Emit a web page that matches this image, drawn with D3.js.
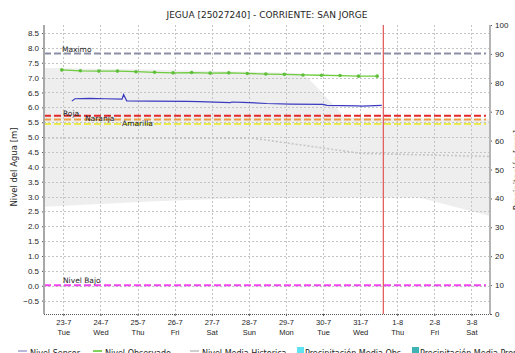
<!DOCTYPE html>
<html>
<head>
<meta charset="utf-8">
<script src="https://cdn.jsdelivr.net/npm/d3@7"></script>
<style>
  html, body { margin: 0; padding: 0; background: #fff; }
  svg { display: block; font-family: "DejaVu Sans", Verdana, sans-serif; }
</style>
</head>
<body>
<svg id="chart" width="515" height="353"></svg>
<script>
// Water level at JEGUA station, 23-7 to 3-8
const T = (d, h = 0, m = 0) => new Date(2024, d[1] - 1, d[0], h, m);

const xDomain = [T([22, 7], 11, 30), T([3, 8], 12)];
const tickDates = [
  T([23, 7]), T([24, 7]), T([25, 7]), T([26, 7]), T([27, 7]), T([28, 7]),
  T([29, 7]), T([30, 7]), T([31, 7]), T([1, 8]), T([2, 8]), T([3, 8])
];
const levelTicks = [-0.5, 0, 0.5, 1, 1.5, 2, 2.5, 3, 3.5, 4, 4.5, 5, 5.5, 6, 6.5, 7, 7.5, 8, 8.5];
const rainTicks = [0, 10, 20, 30, 40, 50, 60, 70, 80, 90, 100];

// Nivel Observado (every 12 h)
const observedTimes = [
  T([22, 7], 23), T([23, 7], 11), T([23, 7], 23), T([24, 7], 11), T([24, 7], 23),
  T([25, 7], 11), T([25, 7], 23), T([26, 7], 11), T([26, 7], 23), T([27, 7], 11),
  T([27, 7], 23), T([28, 7], 11), T([28, 7], 23), T([29, 7], 11), T([29, 7], 23),
  T([30, 7], 11), T([30, 7], 23), T([31, 7], 11)
];
const observedLevels = [7.26, 7.23, 7.22, 7.22, 7.20, 7.18, 7.16, 7.17, 7.15,
  7.16, 7.14, 7.12, 7.11, 7.09, 7.08, 7.07, 7.05, 7.05];

// Nivel Sensor
const sensorTimes = [
  T([23, 7], 5, 30), T([23, 7], 7, 30), T([23, 7], 17), T([24, 7], 3), T([24, 7], 14),
  T([24, 7], 15), T([24, 7], 17), T([25, 7], 8), T([26, 7], 8), T([26, 7], 16),
  T([27, 7], 12), T([27, 7], 13), T([27, 7], 20), T([28, 7], 11, 30), T([29, 7], 3),
  T([30, 7], 0), T([30, 7], 2, 30), T([30, 7], 22), T([31, 7], 1), T([31, 7], 14)
];
const sensorLevels = [6.21, 6.29, 6.30, 6.29, 6.28, 6.43, 6.22, 6.21, 6.20, 6.19,
  6.16, 6.18, 6.17, 6.13, 6.11, 6.10, 6.07, 6.05, 6.04, 6.07];

// Historical band (min / max) and mean
const bandTimes = [
  T([22, 7], 11, 30), T([25, 7], 8), T([26, 7]), T([28, 7], 2), T([29, 7], 9),
  T([29, 7], 14, 30), T([30, 7], 10), T([30, 7], 14), T([1, 8], 14), T([3, 8], 12)
];
const bandMax = [7.32, 7.27, 7.25, 7.20, 7.15, 6.98, 5.90, 5.65, 5.62, 5.60];
const bandMin = [2.66, 2.83, 2.87, 2.95, 2.95, 2.95, 2.96, 2.96, 2.97, 2.35];

const meanTimes = [T([22, 7], 11, 30), T([28, 7], 3), T([31, 7], 1), T([3, 8], 12)];
const meanLevels = [4.97, 4.96, 4.45, 4.35];

// Alert levels
const thresholdNames = ["Maximo", "Roja", "Naranja", "Amarilla", "Nivel Bajo"];
const thresholdLevels = [7.81, 5.72, 5.59, 5.44, 0.02];
const thresholdColors = ["#8a8ea6", "#e3262a", "#ef9d45", "#eaea4a", "#ee44ee"];

const currentTime = T([31, 7], 15);

const legendNames = ["Nivel Sensor", "Nivel Observado", "Nivel Media Historica",
  "Precipitación Media Obs", "Precipitación Media Pronosticada"];

// ---- layout ----
const plotLeft = 44, plotRight = 490, plotTop = 25, plotBottom = 314;
const svg = d3.select("#chart");
const ink = "#1e1e1e";

const x = d3.scaleTime().domain(xDomain).range([plotLeft, plotRight]);
const y = d3.scaleLinear().domain([-0.95, 8.77]).range([plotBottom, plotTop]);
const yRain = d3.scaleLinear().domain([0, 100]).range([plotBottom, plotTop]);

// title
svg.append("text").attr("x", 267).attr("y", 18).attr("text-anchor", "middle")
  .attr("font-size", 9).attr("fill", ink)
  .text("JEGUA [25027240] - CORRIENTE: SAN JORGE");

// historical band
svg.append("path")
  .datum(bandTimes.map((t, i) => [t, bandMin[i], bandMax[i]]))
  .attr("fill", "#eeeeee")
  .attr("d", d3.area().x(d => x(d[0])).y0(d => y(d[1])).y1(d => y(d[2])));

// grid
const grid = svg.append("g").attr("stroke", "#c4c4c4").attr("stroke-dasharray", "2,2").attr("stroke-width", 1);
levelTicks.forEach(v => grid.append("line")
  .attr("x1", plotLeft).attr("x2", plotRight)
  .attr("y1", Math.round(y(v)) + 0.5).attr("y2", Math.round(y(v)) + 0.5));
tickDates.forEach(t => grid.append("line")
  .attr("x1", Math.round(x(t)) + 0.5).attr("x2", Math.round(x(t)) + 0.5)
  .attr("y1", plotTop).attr("y2", plotBottom));

// historical mean
svg.append("path")
  .datum(meanTimes.map((t, i) => [t, meanLevels[i]]))
  .attr("fill", "none").attr("stroke", "#c6c6c6").attr("stroke-width", 1.6)
  .attr("stroke-dasharray", "2,2")
  .attr("d", d3.line().x(d => x(d[0])).y(d => y(d[1])));

// alert levels
thresholdLevels.forEach((v, i) => {
  svg.append("line")
    .attr("x1", plotLeft).attr("x2", plotRight - 4).attr("y1", y(v)).attr("y2", y(v))
    .attr("stroke", thresholdColors[i]).attr("stroke-width", 2)
    .attr("stroke-dasharray", "7,3");
});
const labelX = [62, 63, 85, 122, 63];
const labelDy = [-1.5, 0.5, 1.5, 1.5, -2];
thresholdNames.forEach((n, i) => {
  svg.append("text").attr("x", labelX[i]).attr("y", y(thresholdLevels[i]) + labelDy[i])
    .attr("font-size", 7.5).attr("fill", ink).text(n);
});

// sensor level
svg.append("path")
  .datum(sensorTimes.map((t, i) => [t, sensorLevels[i]]))
  .attr("fill", "none").attr("stroke", "#3a3ac0").attr("stroke-width", 1.2)
  .attr("d", d3.line().x(d => x(d[0])).y(d => y(d[1])));

// observed level
const obs = observedTimes.map((t, i) => [t, observedLevels[i]]);
svg.append("path").datum(obs)
  .attr("fill", "none").attr("stroke", "#6ccc3c").attr("stroke-width", 1.3)
  .attr("d", d3.line().x(d => x(d[0])).y(d => y(d[1])));
svg.append("g").selectAll("circle").data(obs).join("circle")
  .attr("cx", d => x(d[0])).attr("cy", d => y(d[1])).attr("r", 1.8)
  .attr("fill", "#5fbf3a");

// current time marker
svg.append("line")
  .attr("x1", x(currentTime)).attr("x2", x(currentTime)).attr("y1", plotTop).attr("y2", plotBottom)
  .attr("stroke", "#e05555").attr("stroke-width", 1.2);

// left axis
const yAxis = d3.axisLeft(y).tickValues(levelTicks).tickSize(2).tickPadding(3)
  .tickFormat(d3.format(".1f"));
const ga = svg.append("g").attr("transform", `translate(${plotLeft},0)`).call(yAxis);
ga.select(".domain").remove();
ga.selectAll("text").attr("font-size", 8).attr("fill", ink).attr("font-family", null);
ga.selectAll("line").attr("stroke", "#555");
svg.append("line").attr("x1", plotLeft).attr("x2", plotLeft).attr("y1", plotTop).attr("y2", plotBottom)
  .attr("stroke", "#a8a8a8").attr("stroke-width", 2);

// right axis
const rAxis = d3.axisRight(yRain).tickValues(rainTicks).tickSize(2).tickPadding(3);
const gr = svg.append("g").attr("transform", `translate(${plotRight},0)`).call(rAxis);
gr.select(".domain").remove();
gr.selectAll("text").attr("font-size", 8).attr("fill", ink).attr("font-family", null);
gr.selectAll("line").attr("stroke", "#555");
svg.append("line").attr("x1", plotRight).attr("x2", plotRight).attr("y1", plotTop).attr("y2", plotBottom)
  .attr("stroke", "#b4b4b4").attr("stroke-width", 2);

// bottom axis
svg.append("line").attr("x1", plotLeft).attr("x2", plotRight)
  .attr("y1", plotBottom + 0.5).attr("y2", plotBottom + 0.5)
  .attr("stroke", "#555").attr("stroke-dasharray", "1,1");
const xAxis = d3.axisBottom(x).tickValues(tickDates).tickSize(2).tickPadding(4)
  .tickFormat(d3.timeFormat("%-d-%-m"));
const gx = svg.append("g").attr("transform", `translate(0,${plotBottom})`).call(xAxis);
gx.select(".domain").remove();
gx.selectAll("line").attr("stroke", "#555");
gx.selectAll(".tick text").attr("font-size", 7.5).attr("fill", ink).attr("font-family", null)
  .each(function(d) {
    d3.select(this).append("tspan").attr("x", 0).attr("dy", "1.25em").text(d3.timeFormat("%a")(d));
  });

// axis titles
svg.append("text").attr("transform", "translate(17,167) rotate(-90)")
  .attr("text-anchor", "middle").attr("font-size", 8.5).attr("fill", ink)
  .text("Nivel del Agua [m]");
svg.append("text").attr("transform", "translate(520,170) rotate(-90)")
  .attr("text-anchor", "middle").attr("font-size", 8.5).attr("fill", ink)
  .text("Precipitación [mm]");

// legend
const legendX = [30, 105, 202, 305, 420];
const legend = svg.append("g").attr("font-size", 8).attr("fill", ink);
legendNames.forEach((n, i) => {
  legend.append("text").attr("x", legendX[i]).attr("y", 355.5).text(n);
});
const lineSym = [["#b9b9dd", 0], ["#7fd35a", 1], ["#cfcfcf", 2]];
lineSym.forEach(([c, i]) => legend.append("line")
  .attr("x1", legendX[i] - 12).attr("x2", legendX[i] - 3).attr("y1", 351).attr("y2", 351)
  .attr("stroke", c).attr("stroke-width", 2));
legend.append("rect").attr("x", 297).attr("y", 347).attr("width", 7).attr("height", 7).attr("fill", "#5fe3f2");
legend.append("rect").attr("x", 412).attr("y", 347).attr("width", 7).attr("height", 7).attr("fill", "#3fb3b3");
</script>
</body>
</html>
